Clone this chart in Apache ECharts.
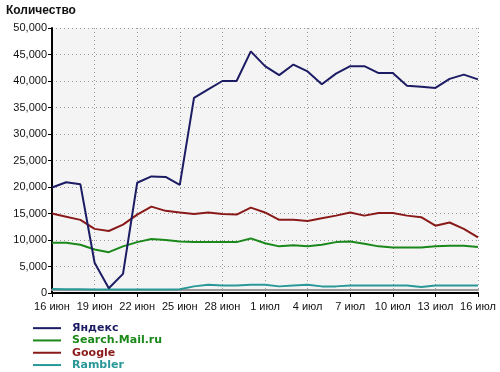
<!DOCTYPE html>
<html>
<head>
<meta charset="utf-8">
<script src="https://cdn.jsdelivr.net/npm/echarts@6/dist/echarts.min.js"></script>
<style>html,body{margin:0;padding:0;background:#fff}#c{width:500px;height:372px}</style>
</head>
<body>
<div id="c"></div>
<script>
const categories = ["16 июн","17 июн","18 июн","19 июн","20 июн","21 июн","22 июн","23 июн","24 июн","25 июн","26 июн","27 июн","28 июн","29 июн","30 июн","1 июл","2 июл","3 июл","4 июл","5 июл","6 июл","7 июл","8 июл","9 июл","10 июл","11 июл","12 июл","13 июл","14 июл","15 июл","16 июл"];
const yandex = [19900,20900,20500,5700,900,3600,20800,22000,21900,20400,36800,38400,40000,40000,45600,42800,41100,43100,41800,39400,41400,42800,42800,41500,41500,39100,38900,38700,40400,41200,40300];
const mail = [9500,9500,9100,8200,7700,8800,9600,10200,10000,9700,9600,9600,9600,9600,10300,9400,8800,9000,8800,9100,9600,9700,9300,8800,8600,8600,8600,8800,8900,8900,8700];
const google = [15000,14400,13800,12100,11700,12900,14800,16300,15500,15200,14900,15200,14900,14800,16100,15200,13800,13800,13600,14100,14600,15200,14600,15100,15100,14600,14300,12700,13300,12100,10500];
const rambler = [750,700,700,650,650,650,650,650,650,700,1250,1550,1400,1400,1550,1550,1250,1400,1550,1250,1250,1400,1400,1400,1400,1400,1150,1400,1400,1400,1400];
const seriesNames = ["Яндекс","Search.Mail.ru","Google","Rambler"];
const colors = ["#1c1c64","#1a881a","#8a1a1a","#2a9898"];
const yTicks = {min:0, max:50000, interval:5000};

const chart = echarts.init(document.getElementById('c'), null, {renderer:'canvas'});
const dataSets = [yandex, mail, google, rambler];
chart.setOption({
  animation:false,
  backgroundColor:'#fff',
  title:{text:'Количество', left:6, top:5, padding:0, textStyle:{fontFamily:'Liberation Sans', fontSize:12, fontWeight:'bold', color:'#111'}},
  grid:{left:52, right:22, top:28, bottom:79, show:true, backgroundColor:'#f4f4f4', borderWidth:0},
  legend:{
    orient:'vertical', left:33, top:322, padding:0, itemWidth:28, itemHeight:2, itemGap:0, icon:'rect',
    textStyle:{fontFamily:'DejaVu Sans', fontSize:11, fontWeight:'bold', lineHeight:12.3, padding:[0,0,0,6]},
    data: seriesNames.map((n,i)=>({name:n, textStyle:{color:colors[i]}}))
  },
  xAxis:[{
    type:'category', data:categories, boundaryGap:false,
    axisLine:{lineStyle:{color:'#000', width:2}},
    axisTick:{interval:2, length:4, lineStyle:{color:'#000'}},
    axisLabel:{interval:2, margin:8, color:'#111', fontFamily:'Liberation Sans', fontSize:11},
    splitLine:{show:true, interval:2, lineStyle:{color:'#999', type:[1,3], width:1}}
  },{
    type:'category', data:categories, boundaryGap:false, position:'bottom', offset:-3,
    axisLine:{lineStyle:{color:'#999', width:2}}, axisTick:{show:false}, axisLabel:{show:false}, splitLine:{show:false}
  }],
  yAxis:{
    type:'value', min:yTicks.min, max:yTicks.max, interval:yTicks.interval,
    axisLine:{show:true, lineStyle:{color:'#000', width:2}},
    axisTick:{show:true, length:4, lineStyle:{color:'#000'}},
    axisLabel:{margin:5, color:'#111', fontFamily:'Liberation Sans', fontSize:11,
      formatter:v=>v.toLocaleString('en-US')},
    splitLine:{show:true, lineStyle:{color:'#999', type:[1,3], width:1}}
  },
  series: seriesNames.map((n,i)=>({
    name:n, type:'line', data:dataSets[i], symbol:'none', xAxisIndex:0,
    lineStyle:{color:colors[i], width:2}, itemStyle:{color:colors[i]}, z:10-i
  }))
});
</script>
</body>
</html>
